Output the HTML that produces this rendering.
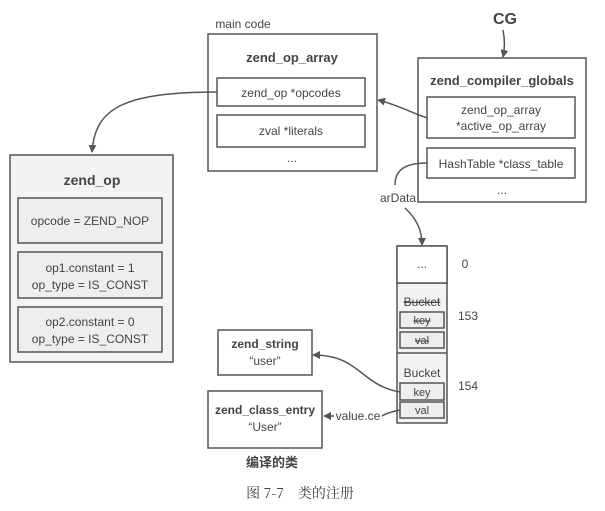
<!DOCTYPE html>
<html><head><meta charset="utf-8"><style>body{margin:0;background:#fff}svg{display:block}</style></head><body>
<svg width="605" height="511" xmlns="http://www.w3.org/2000/svg" font-family="'Liberation Sans','Noto Sans CJK SC',sans-serif" font-size="12" fill="#444">
<defs><marker id="a" markerWidth="8" markerHeight="8" refX="7" refY="4" orient="auto" markerUnits="userSpaceOnUse"><path d="M0,0 L8,4 L0,8 Z" fill="#555"/></marker></defs>
<g stroke="#555" stroke-width="1.5" fill="none">
<rect x="208" y="34" width="169" height="137" fill="#fff"/>
<rect x="217" y="78" width="148" height="28"/>
<rect x="217" y="115" width="148" height="32"/>
<rect x="418" y="58" width="168" height="144" fill="#fff"/>
<rect x="427" y="97" width="148" height="41"/>
<rect x="427" y="148" width="148" height="30"/>
<rect x="10" y="155" width="163" height="207" fill="#f3f3f3"/>
<rect x="18" y="198" width="144" height="45" fill="#eee"/>
<rect x="18" y="252" width="144" height="46" fill="#eee"/>
<rect x="18" y="307" width="144" height="45" fill="#eee"/>
<rect x="397" y="246" width="50" height="177" fill="#f3f3f3"/>
<line x1="397" y1="283" x2="447" y2="283"/>
<line x1="397" y1="353" x2="447" y2="353"/>
<rect x="397" y="246" width="50" height="37" fill="#fff"/>
<rect x="400" y="312" width="44" height="16" fill="#eee"/>
<rect x="400" y="332" width="44" height="16" fill="#eee"/>
<rect x="400" y="383" width="44" height="17" fill="#eee"/>
<rect x="400" y="402" width="44" height="16" fill="#eee"/>
<rect x="218" y="330" width="94" height="45"/>
<rect x="208" y="391" width="114" height="57"/>
<path d="M217,92 C120,92 95,110 92,152" marker-end="url(#a)"/>
<path d="M427,118 C410,112 395,104 378,100" marker-end="url(#a)"/>
<path d="M503,30 C505,40 505,48 503,57" marker-end="url(#a)"/>
<path d="M427,163 C405,163 395,170 395,185"/>
<path d="M405,208 C418,220 422,232 422,245" marker-end="url(#a)"/>
<path d="M400,392 C360,385 360,355 313,355" marker-end="url(#a)"/>
<path d="M400,410 C390,412 385,414 382,416"/>
<path d="M334,416 L324,416" marker-end="url(#a)"/>
</g>
<g text-anchor="middle">
<text x="243" y="28" font-size="12">main code</text>
<text x="292" y="62" font-weight="bold" font-size="13">zend_op_array</text>
<text x="291" y="97">zend_op *opcodes</text>
<text x="291" y="135">zval *literals</text>
<text x="292" y="162">...</text>
<text x="505" y="24" font-weight="bold" font-size="16">CG</text>
<text x="502" y="85" font-weight="bold" font-size="13">zend_compiler_globals</text>
<text x="501" y="114">zend_op_array</text>
<text x="501" y="130">*active_op_array</text>
<text x="501" y="168">HashTable *class_table</text>
<text x="502" y="194">...</text>
<text x="398" y="202">arData</text>
<text x="92" y="185" font-weight="bold" font-size="14">zend_op</text>
<text x="90" y="225">opcode = ZEND_NOP</text>
<text x="90" y="272">op1.constant = 1</text>
<text x="90" y="289">op_type = IS_CONST</text>
<text x="90" y="326">op2.constant = 0</text>
<text x="90" y="343">op_type = IS_CONST</text>
<text x="422" y="268">...</text>
<text x="422" y="306" text-decoration="line-through">Bucket</text>
<text x="422" y="324" font-size="11" text-decoration="line-through">key</text>
<text x="422" y="344" font-size="11" text-decoration="line-through">val</text>
<text x="422" y="377">Bucket</text>
<text x="422" y="396" font-size="11">key</text>
<text x="422" y="414" font-size="11">val</text>
<text x="465" y="268">0</text>
<text x="468" y="320">153</text>
<text x="468" y="390">154</text>
<text x="265" y="348" font-weight="bold">zend_string</text>
<text x="265" y="365">“user”</text>
<text x="265" y="414" font-weight="bold">zend_class_entry</text>
<text x="265" y="431">“User”</text>
<text x="358" y="420">value.ce</text>
<text x="272" y="467" font-weight="bold" font-size="13">编译的类</text>
<text x="300" y="498" font-family="'Noto Serif CJK SC',serif" font-size="14">图 7-7　类的注册</text>
</g>
</svg>
</body></html>
